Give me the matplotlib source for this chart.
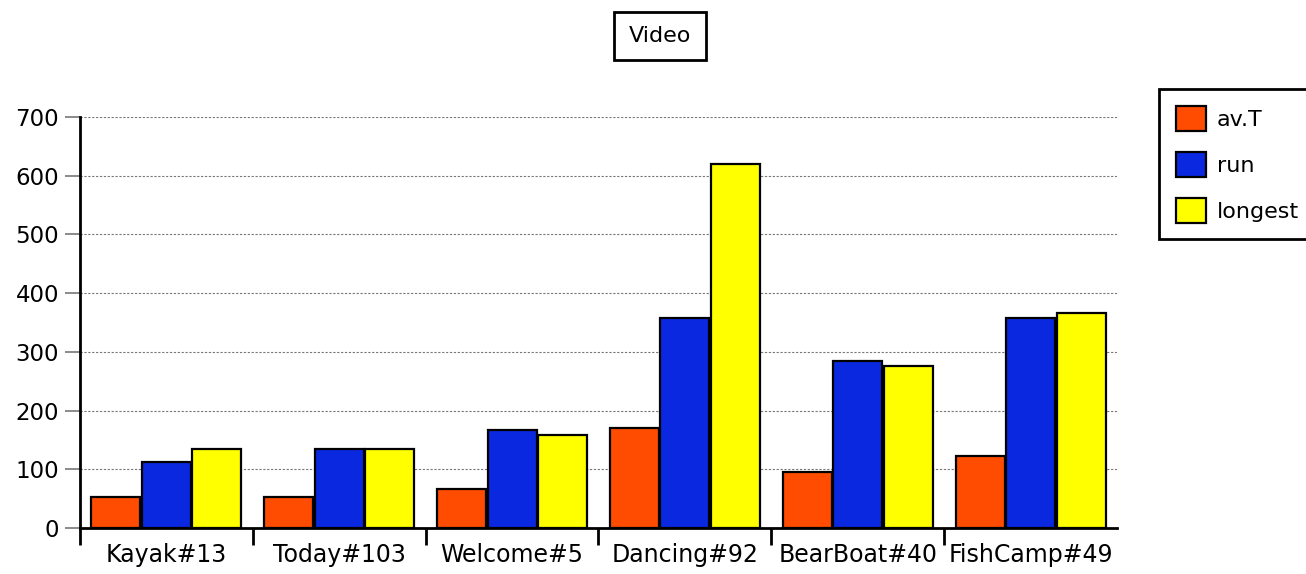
import numpy as np
import matplotlib
matplotlib.use("Agg")
import matplotlib.pyplot as plt
from matplotlib.ticker import FixedLocator

# datos del grafico
categorias = ["Kayak#13", "Today#103", "Welcome#5", "Dancing#92", "BearBoat#40", "FishCamp#49"]
series = ["av.T", "run", "longest"]
av_t = [53, 53, 66, 171, 95, 122]
run = [112, 135, 167, 357, 284, 357]
longest = [135, 135, 158, 620, 276, 366]
colores = ["#FF4C00", "#0A28E0", "#FFFF00"]

plt.rcParams["font.family"] = "DejaVu Sans"

fig = plt.figure(figsize=(13.06, 5.74), dpi=100)
ax = fig.add_axes([80 / 1306, 46 / 574, 1037 / 1306, 411 / 574])

x = np.arange(len(categorias))
ancho = 0.283
paso = 0.292
for i, (nombre, valores) in enumerate(zip(series, [av_t, run, longest])):
    ax.bar(x + (i - 1) * paso, valores, width=ancho, color=colores[i],
           edgecolor="black", linewidth=1.6, label=nombre, zorder=3)

ax.set_xlim(-0.5, len(categorias) - 0.5)
ax.set_ylim(0, 700)
ax.set_yticks(range(0, 701, 100))
ax.set_xticks(x)
ax.set_xticklabels(categorias, fontsize=17)
ax.tick_params(axis="x", which="major", length=0, pad=11)
ax.xaxis.set_minor_locator(FixedLocator(np.arange(-0.5, len(categorias) - 1, 1.0)))
ax.tick_params(axis="x", which="minor", length=12, width=2, color="black")
ax.tick_params(axis="y", labelsize=16.5, length=11, width=1.2, color="#777777", pad=4)

ax.yaxis.grid(True, linestyle=(0, (2, 1.5)), color="#777777", linewidth=0.8, zorder=0)
for lado in ["top", "right"]:
    ax.spines[lado].set_visible(False)
ax.spines["left"].set_linewidth(2)
ax.spines["bottom"].set_linewidth(2)

# titulo en recuadro
fig.text(660 / 1306, 1 - 36 / 574, "Video", ha="center", va="center", fontsize=16,
         bbox=dict(boxstyle="square,pad=0.65", facecolor="white", edgecolor="black", linewidth=2))

leg = ax.legend(loc="upper left", bbox_to_anchor=(1159 / 1306, 1 - 89 / 574),
                bbox_transform=fig.transFigure, fontsize=16, frameon=True, fancybox=False,
                framealpha=1, handlelength=1.35, handleheight=1.35, handletextpad=0.5,
                labelspacing=0.95, borderpad=0.75, borderaxespad=0)
leg.get_frame().set_edgecolor("black")
leg.get_frame().set_linewidth(2)

fig.savefig("out.png", dpi=100)
